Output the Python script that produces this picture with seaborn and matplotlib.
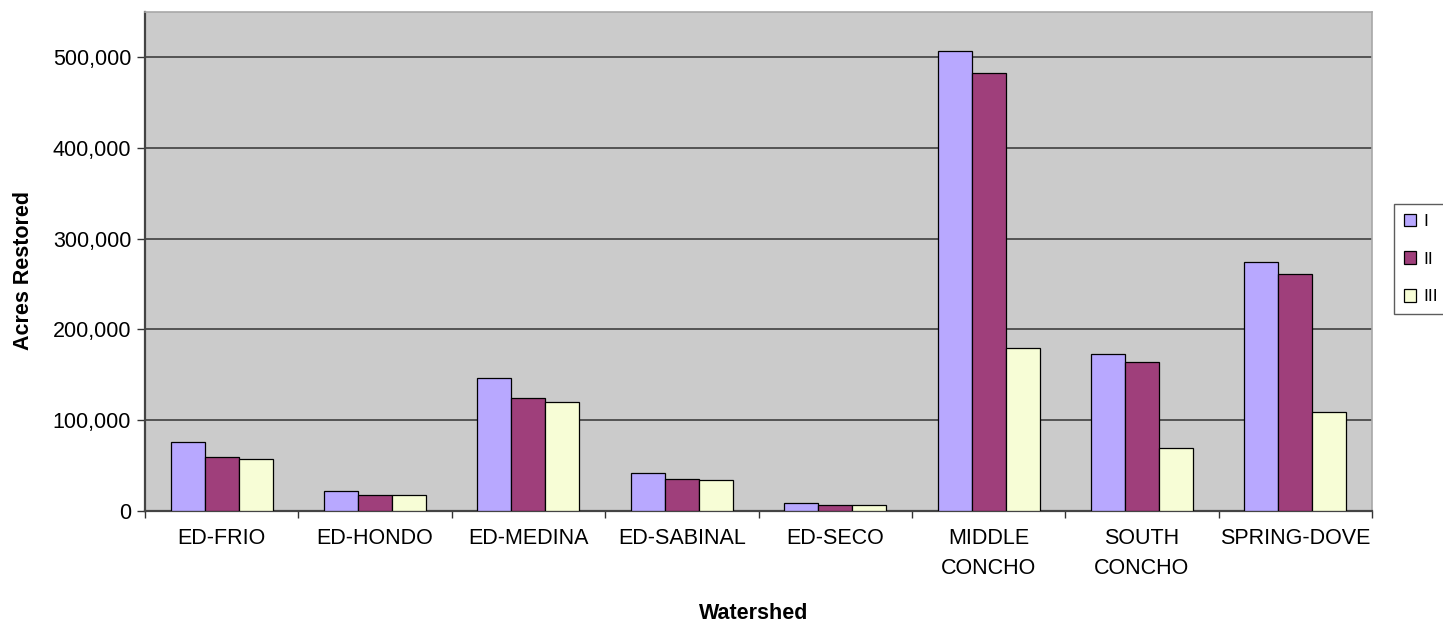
import pandas as pd
import numpy as np
import matplotlib
matplotlib.use('Agg')
import matplotlib.pyplot as plt
import seaborn as sns
from matplotlib.ticker import FuncFormatter, FixedLocator

# data
watersheds = ['ED-FRIO', 'ED-HONDO', 'ED-MEDINA', 'ED-SABINAL', 'ED-SECO',
              'MIDDLE\nCONCHO', 'SOUTH\nCONCHO', 'SPRING-DOVE']
phase_I = [75700, 22100, 146300, 42200, 9000, 506800, 172800, 273800]
phase_II = [59700, 17700, 124300, 35400, 6700, 483000, 164400, 260600]
phase_III = [57500, 17700, 120200, 33600, 6700, 179400, 69000, 109000]
phases = ['I', 'II', 'III']
colors = ['#B8A8FF', '#9F3F7B', '#F7FDD6']

df = pd.DataFrame({
    'Watershed': watersheds * 3,
    'Phase': ['I'] * 8 + ['II'] * 8 + ['III'] * 8,
    'Acres': phase_I + phase_II + phase_III,
})

sns.set_theme(style='white')
plt.rcParams['font.family'] = ['Liberation Sans', 'DejaVu Sans']
plt.rcParams['text.color'] = 'black'

fig = plt.figure(figsize=(14.43, 6.24), dpi=100)
ax = fig.add_axes([0.1005, 0.1811, 0.8503, 0.8001])
ax.set_facecolor('#CBCBCB')

sns.barplot(data=df, x='Watershed', y='Acres', hue='Phase', hue_order=phases,
            palette=colors, width=0.665, errorbar=None, saturation=1,
            edgecolor='black', linewidth=0.9, ax=ax, zorder=3)

ax.set_ylim(0, 550000)
ax.set_xlim(-0.5, len(watersheds) - 0.5)
ax.set_yticks(np.arange(0, 500001, 100000))
ax.yaxis.set_major_formatter(FuncFormatter(lambda v, p: '{:,.0f}'.format(v)))
ax.grid(axis='y', color='#333333', linewidth=1.1, zorder=1)
ax.set_axisbelow(True)

# category labels in the middle, tick marks between groups
ax.tick_params(axis='x', which='major', length=0, pad=12, labelsize=15.5, labelcolor='black')
ax.xaxis.set_minor_locator(FixedLocator(np.arange(-0.5, len(watersheds), 1)))
ax.tick_params(axis='x', which='minor', length=5, width=1, color='#333333', direction='out', bottom=True)
ax.tick_params(axis='y', length=6, width=1, color='#333333', direction='out', left=True,
               labelsize=15.5, labelcolor='black', pad=4)
for lab in ax.get_xticklabels():
    lab.set_linespacing(1.6)
    lab.set_verticalalignment('top')

for s in ['left', 'bottom']:
    ax.spines[s].set_color('#444444')
    ax.spines[s].set_linewidth(1.6)
for s in ['top', 'right']:
    ax.spines[s].set_color('#A8A8A8')
    ax.spines[s].set_linewidth(1.2)

ax.set_xlabel('')
ax.set_ylabel('')
fig.text(754 / 1443, 5 / 624, 'Watershed', fontsize=15.5, fontweight='bold',
         ha='center', va='baseline')
fig.text(24 / 1443, 1 - 270 / 624, 'Acres Restored', fontsize=15.5, fontweight='bold',
         rotation=90, ha='center', va='center')

ax.legend_.remove()
handles, labels = ax.get_legend_handles_labels()
leg = fig.legend(handles, labels, loc='upper left', bbox_to_anchor=(1394 / 1443, 1 - 204 / 624),
                 bbox_transform=fig.transFigure, frameon=True, fancybox=False,
                 fontsize=12.5, handlelength=0.72, handleheight=0.72, handletextpad=0.45,
                 labelspacing=1.3, borderpad=0.55, borderaxespad=0)
leg.get_frame().set_edgecolor('#333333')
leg.get_frame().set_linewidth(1.0)
leg.get_frame().set_facecolor('white')

fig.savefig('out.png', dpi=100)
